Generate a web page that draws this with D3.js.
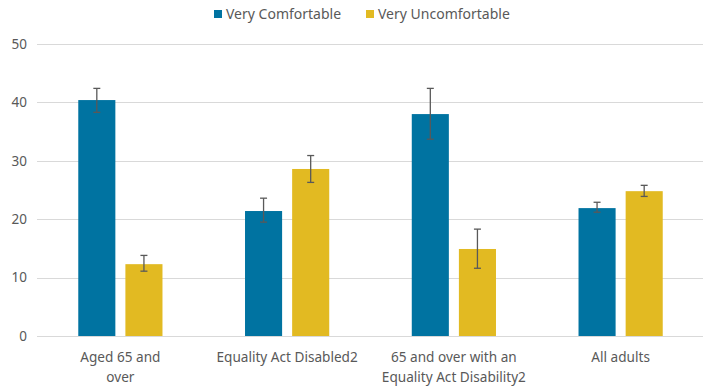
<!DOCTYPE html>
<html>
<head>
<meta charset="utf-8">
<script src="https://cdn.jsdelivr.net/npm/d3@7"></script>
<style>
  body { margin: 0; background: #fff; }
  svg { font-family: "Noto Sans", sans-serif; }
</style>
</head>
<body>
<div class="canvas"></div>
<script>
const categories = ["Aged 65 and over", "Equality Act Disabled2", "65 and over with an Equality Act Disability2", "All adults"];
const tickLines = [["Aged 65 and", "over"], ["Equality Act Disabled2"], ["65 and over with an", "Equality Act Disability2"], ["All adults"]];
const seriesNames = ["Very Comfortable", "Very Uncomfortable"];
const comfortable = [40.4, 21.4, 38.0, 21.9];
const comfortableLow = [38.3, 19.5, 33.7, 21.2];
const comfortableHigh = [42.4, 23.6, 42.4, 22.9];
const uncomfortable = [12.3, 28.6, 14.9, 24.8];
const uncomfortableLow = [11.1, 26.3, 11.6, 23.9];
const uncomfortableHigh = [13.8, 30.9, 18.3, 25.8];
const yTicks = [0, 10, 20, 30, 40, 50];

const dims = { width: 703, height: 386 };
const plot = { left: 37, right: 704, top: 44, bottom: 336 };
const colour = d3.scaleOrdinal().domain(seriesNames).range(["#0073a1", "#e2ba22"]);

const svg = d3.select(".canvas").append("svg")
  .attr("width", dims.width)
  .attr("height", dims.height);

const y = d3.scaleLinear().domain([0, 50]).range([plot.bottom, plot.top]);
const x0 = d3.scaleBand().domain(categories).range([plot.left, plot.right])
  .paddingInner(0.495).paddingOuter(0.2475);
const x1 = d3.scaleBand().domain(seriesNames).range([0, x0.bandwidth()]).paddingInner(0.213);

// gridlines
svg.append("g").selectAll("line").data(yTicks).join("line")
  .attr("x1", plot.left).attr("x2", plot.right)
  .attr("y1", d => Math.round(y(d)) + 0.5).attr("y2", d => Math.round(y(d)) + 0.5)
  .attr("stroke", "#d9d9d9").attr("stroke-width", 1);

// y axis labels
const yAxis = svg.append("g").attr("transform", `translate(${plot.left - 10}, 0)`)
  .call(d3.axisLeft(y).tickValues(yTicks).tickSize(0).tickPadding(0));
yAxis.select(".domain").remove();
yAxis.selectAll("text").attr("fill", "#595959").attr("font-size", 13.5)
  .attr("font-family", "Noto Sans, sans-serif");

// build rows
const rows = categories.map((c, i) => ({
  cat: c,
  vals: [
    { s: seriesNames[0], v: comfortable[i], lo: comfortableLow[i], hi: comfortableHigh[i] },
    { s: seriesNames[1], v: uncomfortable[i], lo: uncomfortableLow[i], hi: uncomfortableHigh[i] }
  ]
}));

const groups = svg.append("g").selectAll("g").data(rows).join("g")
  .attr("transform", d => `translate(${x0(d.cat)}, 0)`);

groups.selectAll("rect").data(d => d.vals).join("rect")
  .attr("x", d => x1(d.s))
  .attr("width", x1.bandwidth())
  .attr("y", d => y(d.v))
  .attr("height", d => y(0) - y(d.v))
  .attr("fill", d => colour(d.s));

// error bars
const err = groups.selectAll("g.err").data(d => d.vals).join("g").attr("class", "err")
  .attr("stroke", "#595959").attr("stroke-width", 1.3);
err.append("line")
  .attr("x1", d => x1(d.s) + x1.bandwidth() / 2).attr("x2", d => x1(d.s) + x1.bandwidth() / 2)
  .attr("y1", d => y(d.lo)).attr("y2", d => y(d.hi));
err.append("line")
  .attr("x1", d => x1(d.s) + x1.bandwidth() / 2 - 3.5).attr("x2", d => x1(d.s) + x1.bandwidth() / 2 + 3.5)
  .attr("y1", d => y(d.hi)).attr("y2", d => y(d.hi));
err.append("line")
  .attr("x1", d => x1(d.s) + x1.bandwidth() / 2 - 3.5).attr("x2", d => x1(d.s) + x1.bandwidth() / 2 + 3.5)
  .attr("y1", d => y(d.lo)).attr("y2", d => y(d.lo));

// x labels
const xl = svg.append("g").selectAll("text").data(categories).join("text")
  .attr("x", d => x0(d) + x0.bandwidth() / 2)
  .attr("y", 362)
  .attr("text-anchor", "middle")
  .attr("fill", "#595959")
  .attr("font-size", 13.6);
xl.selectAll("tspan").data((d, i) => tickLines[i]).join("tspan")
  .attr("x", function () { return this.parentNode.getAttribute("x"); })
  .attr("dy", (d, i) => i === 0 ? 0 : 20)
  .text(d => d);

// legend
const legendX = [214, 366];
const legend = svg.append("g").selectAll("g").data(seriesNames).join("g")
  .attr("transform", (d, i) => `translate(${legendX[i]}, 10)`);
legend.append("rect").attr("width", 8).attr("height", 8).attr("fill", d => colour(d));
legend.append("text").attr("x", 12).attr("y", 8.5).attr("fill", "#595959")
  .attr("font-size", 14).text(d => d);
</script>
</body>
</html>
